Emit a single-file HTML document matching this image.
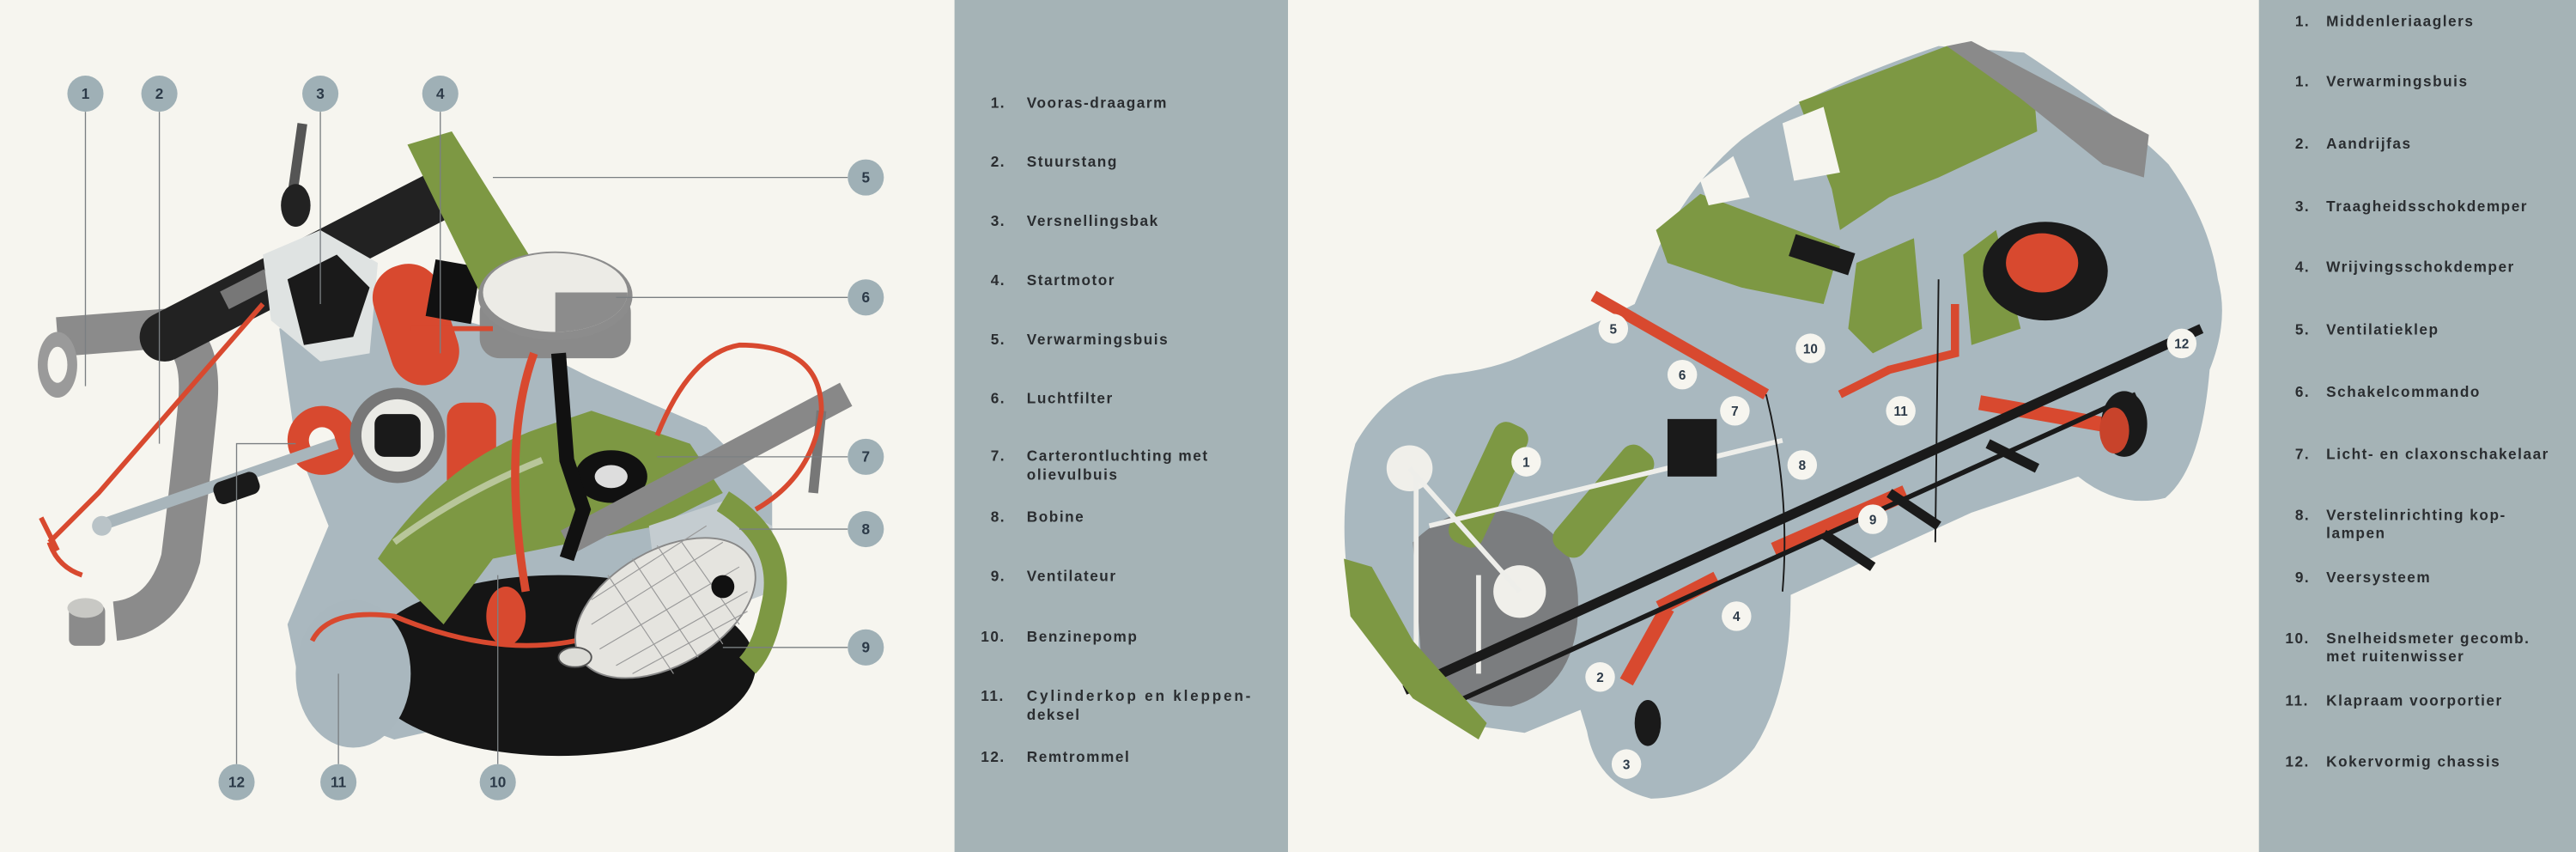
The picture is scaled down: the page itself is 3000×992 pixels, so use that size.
<!DOCTYPE html>
<html><head><meta charset="utf-8"><style>
html,body{margin:0;padding:0;background:#f6f5ef;}
svg{display:block;}
.t{font-family:"Liberation Sans",sans-serif;font-weight:bold;font-size:9px;letter-spacing:0.8px;fill:#2a2d30;}
.n{font-family:"Liberation Sans",sans-serif;font-weight:bold;font-size:9px;fill:#2c3a48;text-anchor:middle;}
.l{stroke:#7a7f82;stroke-width:0.7;fill:none;}
</style></head><body>
<svg width="3000" height="992" viewBox="0 0 1568 518.5" preserveAspectRatio="none" xmlns="http://www.w3.org/2000/svg">
<rect width="1568" height="518.5" fill="#f6f5ef"/>
<rect x="581" y="0" width="203" height="518.5" fill="#a5b3b6"/>
<rect x="1375" y="0" width="193" height="518.5" fill="#a5b3b6"/>

<!-- ENGINE -->
<g>
<path d="M35,205 L100,200 Q125,205 120,250 Q115,300 110,340 Q100,375 70,378" stroke="#8b8b8b" stroke-width="24" fill="none"/>
<rect x="42" y="368" width="22" height="25" rx="4" fill="#8b8b8b"/>
<ellipse cx="52" cy="370" rx="11" ry="6" fill="#c8c8c4"/>
<ellipse cx="35" cy="222" rx="12" ry="20" fill="#9a9a9a"/>
<ellipse cx="35" cy="222" rx="6" ry="11" fill="#f6f5ef"/>
<path d="M100,205 L265,120" stroke="#222" stroke-width="30" stroke-linecap="round"/>
<rect x="135" y="170" width="30" height="12" fill="#777" transform="rotate(-27 150 176)"/>
<path d="M170,200 L230,180 L300,200 L360,230 L430,260 L470,300 L470,350 L430,390 L330,430 L240,450 L185,430 L175,380 L200,320 L180,270 Z" fill="#aab8bf"/>
<ellipse cx="340" cy="405" rx="120" ry="55" fill="#151515"/>
<ellipse cx="215" cy="410" rx="35" ry="45" fill="#a9b7be"/>
<polygon points="160,155 195,140 230,160 225,215 195,220 165,195" fill="#dfe3e2"/>
<polygon points="175,170 205,155 225,175 215,205 185,210" fill="#1a1a1a"/>
<rect x="178" y="75" width="6" height="45" fill="#555" transform="rotate(8 181 97)"/>
<ellipse cx="180" cy="125" rx="9" ry="13" fill="#222"/>
<rect x="232" y="160" width="42" height="75" rx="20" fill="#d8492f" transform="rotate(-18 253 197)"/>
<rect x="262" y="160" width="28" height="35" fill="#111" transform="rotate(10 276 177)"/>
<polygon points="248,88 275,80 325,160 318,185 298,190" fill="#7d9843"/>
<rect x="292" y="178" width="92" height="40" rx="12" fill="#8a8a8a"/>
<ellipse cx="338" cy="180" rx="47" ry="27" fill="#8c8c8c"/>
<ellipse cx="338" cy="178" rx="44" ry="24" fill="#ecebe6"/>
<path d="M338,178 L382,178 A44,24 0 0,1 338,202 Z" fill="#8c8c8c"/>
<circle cx="196" cy="268" r="21" fill="#d8492f"/>
<circle cx="196" cy="268" r="8" fill="#f6f5ef"/>
<circle cx="242" cy="265" r="29" fill="#777"/>
<circle cx="242" cy="265" r="22" fill="#eaeae5"/>
<rect x="228" y="252" width="28" height="26" rx="6" fill="#1a1a1a"/>
<rect x="272" y="245" width="30" height="60" rx="10" fill="#d8492f"/>
<path d="M230,340 Q270,280 330,260 L360,250 L420,270 L440,300 L400,320 L350,330 L300,340 L270,380 Z" fill="#7d9843"/>
<path d="M240,330 Q280,300 330,280" stroke="#b8c69a" stroke-width="4" fill="none"/>
<ellipse cx="372" cy="290" rx="22" ry="16" fill="#111"/>
<ellipse cx="372" cy="290" rx="10" ry="7" fill="#ddd"/>
<path d="M345,330 L515,240" stroke="#888" stroke-width="16"/>
<path d="M500,250 L495,300" stroke="#777" stroke-width="6"/>
<polygon points="395,320 440,305 470,320 470,360 430,375 400,360" fill="#c4ccd0"/>
<path d="M440,305 Q480,330 470,370 Q465,395 455,405" stroke="#7d9843" stroke-width="14" fill="none"/>
<path d="M250,200 L300,200 M30,330 L60,300 L160,185" stroke="#d8492f" stroke-width="3" fill="none"/>
<path d="M30,330 Q35,345 50,350 M25,315 L35,335" stroke="#d8492f" stroke-width="3" fill="none"/>
<path d="M190,390 Q200,370 240,375 Q300,400 350,390 Q400,380 420,360" stroke="#d8492f" stroke-width="3" fill="none"/>
<path d="M400,265 Q420,215 450,210 Q500,210 500,250 Q495,290 460,310" stroke="#d8492f" stroke-width="3" fill="none"/>
<path d="M325,215 Q305,270 320,360" stroke="#d8492f" stroke-width="5" fill="none"/>
<ellipse cx="308" cy="375" rx="12" ry="18" fill="#d8492f"/>
<path d="M340,215 L345,280 L355,310 L345,340" stroke="#111" stroke-width="9" fill="none"/>
<path d="M60,320 L205,270" stroke="#a8b5bb" stroke-width="7"/>
<rect x="130" y="290" width="28" height="14" rx="5" fill="#1a1a1a" transform="rotate(-19 144 297)"/>
<circle cx="62" cy="320" r="6" fill="#b9c3c7"/>
<ellipse cx="405" cy="370" rx="60" ry="35" fill="#e5e4df" stroke="#888" stroke-width="1" transform="rotate(-30 405 370)"/>
<g stroke="#999" stroke-width="0.6">
<path d="M360,380 L440,330 M365,395 L450,345 M375,405 L455,360 M385,410 L455,372 M360,365 L430,320"/>
<path d="M370,350 L410,410 M385,340 L425,400 M400,332 L440,392 M415,330 L450,380"/>
</g>
<ellipse cx="350" cy="400" rx="10" ry="6" fill="#dcdcd7" stroke="#555" stroke-width="1"/>
<circle cx="440" cy="357" r="7" fill="#111"/>
</g>
<g class="l">
<path d="M52,68 V235"/>
<path d="M97,68 V270"/>
<path d="M195,68 V185"/>
<path d="M268,68 V215"/>
<path d="M516,108 H300"/>
<path d="M516,181 H375"/>
<path d="M516,278 H400"/>
<path d="M516,322 H450"/>
<path d="M516,394 H440"/>
<path d="M303,465 V350"/>
<path d="M206,465 V410"/>
<path d="M144,465 V270 H180"/>
</g>
<g fill="#9fb0b6">
<circle cx="52" cy="57" r="11"/><circle cx="97" cy="57" r="11"/><circle cx="195" cy="57" r="11"/><circle cx="268" cy="57" r="11"/>
<circle cx="527" cy="108" r="11"/><circle cx="527" cy="181" r="11"/><circle cx="527" cy="278" r="11"/><circle cx="527" cy="322" r="11"/><circle cx="527" cy="394" r="11"/>
<circle cx="303" cy="476" r="11"/><circle cx="206" cy="476" r="11"/><circle cx="144" cy="476" r="11"/>
</g>
<g class="n">
<text x="52" y="60">1</text><text x="97" y="60">2</text><text x="195" y="60">3</text><text x="268" y="60">4</text>
<text x="527" y="111">5</text><text x="527" y="184">6</text><text x="527" y="281">7</text><text x="527" y="325">8</text><text x="527" y="397">9</text>
<text x="303" y="479">10</text><text x="206" y="479">11</text><text x="144" y="479">12</text>
</g>

<!-- CAR -->
<g>
<path d="M825,270 Q845,235 880,228 Q910,225 930,215 Q965,200 995,185 L1010,150 Q1030,110 1060,85 Q1100,55 1180,28 L1232,32 Q1290,70 1320,100 Q1345,135 1350,170 Q1357,195 1345,225 Q1340,285 1318,303 Q1290,310 1265,290 L1200,312 L1090,362 Q1090,420 1068,455 Q1045,485 1005,486 Q972,478 966,445 L962,432 L928,446 L900,442 L855,412 Q830,390 820,350 Q815,305 825,270 Z" fill="#a9b8bf"/>
<polygon points="1095,62 1185,28 1238,56 1240,80 1180,108 1150,120 1120,140 1115,115" fill="#7d9843"/>
<polygon points="1008,140 1035,118 1080,135 1120,150 1110,185 1060,175 1015,160" fill="#7d9843"/>
<polygon points="1130,160 1165,145 1170,200 1140,215 1125,200" fill="#7d9843"/>
<polygon points="1195,155 1215,140 1230,200 1200,210" fill="#7d9843"/>
<polygon points="1085,75 1110,65 1120,105 1092,110" fill="#f6f5ef"/>
<polygon points="1035,110 1055,95 1065,120 1040,125" fill="#f6f5ef"/>
<rect x="1090" y="148" width="38" height="14" fill="#1a1a1a" transform="rotate(18 1109 155)"/>
<polygon points="1185,28 1200,25 1308,82 1305,108 1280,100 1230,60" fill="#8a8a8a"/>
<path d="M860,330 Q890,300 930,315 Q965,330 960,380 Q955,420 920,430 Q880,430 865,400 Z" fill="#7b7d7f"/>
<rect x="895" y="255" width="22" height="80" rx="8" fill="#7d9843" transform="rotate(25 906 295)"/>
<rect x="965" y="265" width="22" height="80" rx="8" fill="#7d9843" transform="rotate(40 976 305)"/>
<circle cx="858" cy="285" r="14" fill="#f0efea"/>
<circle cx="925" cy="360" r="16" fill="#f0efea"/>
<path d="M858,285 L925,360 M870,320 L1085,268 M862,290 V420 M900,350 V410" stroke="#eeeeea" stroke-width="3"/>
<rect x="1015" y="255" width="30" height="35" fill="#1a1a1a"/>
<path d="M970,180 L1075,240" stroke="#d8492f" stroke-width="7"/>
<path d="M1120,240 L1150,225 L1190,215 L1190,185" stroke="#d8492f" stroke-width="5" fill="none"/>
<path d="M1205,245 L1290,260" stroke="#d8492f" stroke-width="9"/>
<path d="M1010,370 L1045,352 M990,415 L1015,370" stroke="#d8492f" stroke-width="9"/>
<path d="M1080,335 L1160,300" stroke="#d8492f" stroke-width="10"/>
<path d="M855,420 L1340,200" stroke="#1a1a1a" stroke-width="6"/>
<path d="M880,430 L1300,240" stroke="#1a1a1a" stroke-width="3"/>
<path d="M1110,325 L1140,345 M1150,300 L1180,320 M1210,270 L1240,285" stroke="#1a1a1a" stroke-width="6"/>
<polygon points="818,340 835,345 860,390 905,440 900,450 860,425 822,375" fill="#7d9843"/>
<ellipse cx="1245" cy="165" rx="38" ry="30" fill="#1a1a1a"/>
<ellipse cx="1243" cy="160" rx="22" ry="18" fill="#d8492f"/>
<ellipse cx="1293" cy="258" rx="14" ry="20" fill="#1a1a1a"/>
<ellipse cx="1287" cy="262" rx="9" ry="14" fill="#c8432b"/>
<ellipse cx="1003" cy="440" rx="8" ry="14" fill="#1a1a1a"/>
<path d="M1075,240 Q1090,300 1085,360 M1180,170 L1178,330" stroke="#1a1a1a" stroke-width="1" fill="none"/>
</g>
<g fill="#f6f5ef">
<circle cx="929" cy="281" r="9"/><circle cx="974" cy="412" r="9"/><circle cx="990" cy="465" r="9"/><circle cx="1057" cy="375" r="9"/>
<circle cx="982" cy="200" r="9"/><circle cx="1024" cy="228" r="9"/><circle cx="1056" cy="250" r="9"/><circle cx="1097" cy="283" r="9"/>
<circle cx="1140" cy="316" r="9"/><circle cx="1102" cy="212" r="9"/><circle cx="1157" cy="250" r="9"/><circle cx="1328" cy="209" r="9"/>
</g>
<g class="n" style="font-size:8px">
<text x="929" y="284">1</text><text x="974" y="415">2</text><text x="990" y="468">3</text><text x="1057" y="378">4</text>
<text x="982" y="203">5</text><text x="1024" y="231">6</text><text x="1056" y="253">7</text><text x="1097" y="286">8</text>
<text x="1140" y="319">9</text><text x="1102" y="215">10</text><text x="1157" y="253">11</text><text x="1328" y="212">12</text>
</g>

<!-- TEXT PANEL 1 -->
<g class="t">
<text x="603" y="65.5">1.</text><text x="625" y="65.5">Vooras-draagarm</text>
<text x="603" y="101.5">2.</text><text x="625" y="101.5">Stuurstang</text>
<text x="603" y="137.5">3.</text><text x="625" y="137.5">Versnellingsbak</text>
<text x="603" y="173.5">4.</text><text x="625" y="173.5">Startmotor</text>
<text x="603" y="209.5">5.</text><text x="625" y="209.5">Verwarmingsbuis</text>
<text x="603" y="245.5">6.</text><text x="625" y="245.5">Luchtfilter</text>
<text x="603" y="280.5">7.</text><text x="625" y="280.5">Carterontluchting met</text><text x="625" y="292">olievulbuis</text>
<text x="603" y="317.5">8.</text><text x="625" y="317.5">Bobine</text>
<text x="603" y="353.5">9.</text><text x="625" y="353.5">Ventilateur</text>
<text x="597" y="390.5">10.</text><text x="625" y="390.5">Benzinepomp</text>
<text x="597" y="426.5">11.</text><text x="625" y="426.5" textLength="137">Cylinderkop en kleppen-</text><text x="625" y="438">deksel</text>
<text x="597" y="463.5">12.</text><text x="625" y="463.5">Remtrommel</text>
</g>
<!-- TEXT PANEL 2 -->
<g class="t">
<text x="1397" y="16">1.</text><text x="1416" y="16">Middenleriaaglers</text>
<text x="1397" y="52.5">1.</text><text x="1416" y="52.5">Verwarmingsbuis</text>
<text x="1397" y="90.5">2.</text><text x="1416" y="90.5">Aandrijfas</text>
<text x="1397" y="128.5">3.</text><text x="1416" y="128.5">Traagheidsschokdemper</text>
<text x="1397" y="165.5">4.</text><text x="1416" y="165.5">Wrijvingsschokdemper</text>
<text x="1397" y="203.5">5.</text><text x="1416" y="203.5">Ventilatieklep</text>
<text x="1397" y="241.5">6.</text><text x="1416" y="241.5">Schakelcommando</text>
<text x="1397" y="279.5">7.</text><text x="1416" y="279.5">Licht- en claxonschakelaar</text>
<text x="1397" y="316.5">8.</text><text x="1416" y="316.5">Verstelinrichting kop-</text><text x="1416" y="327.5">lampen</text>
<text x="1397" y="354.5">9.</text><text x="1416" y="354.5">Veersysteem</text>
<text x="1391" y="391.5">10.</text><text x="1416" y="391.5">Snelheidsmeter gecomb.</text><text x="1416" y="402.5">met ruitenwisser</text>
<text x="1391" y="429.5">11.</text><text x="1416" y="429.5">Klapraam voorportier</text>
<text x="1391" y="466.5">12.</text><text x="1416" y="466.5">Kokervormig chassis</text>
</g>
</svg>
</body></html>
